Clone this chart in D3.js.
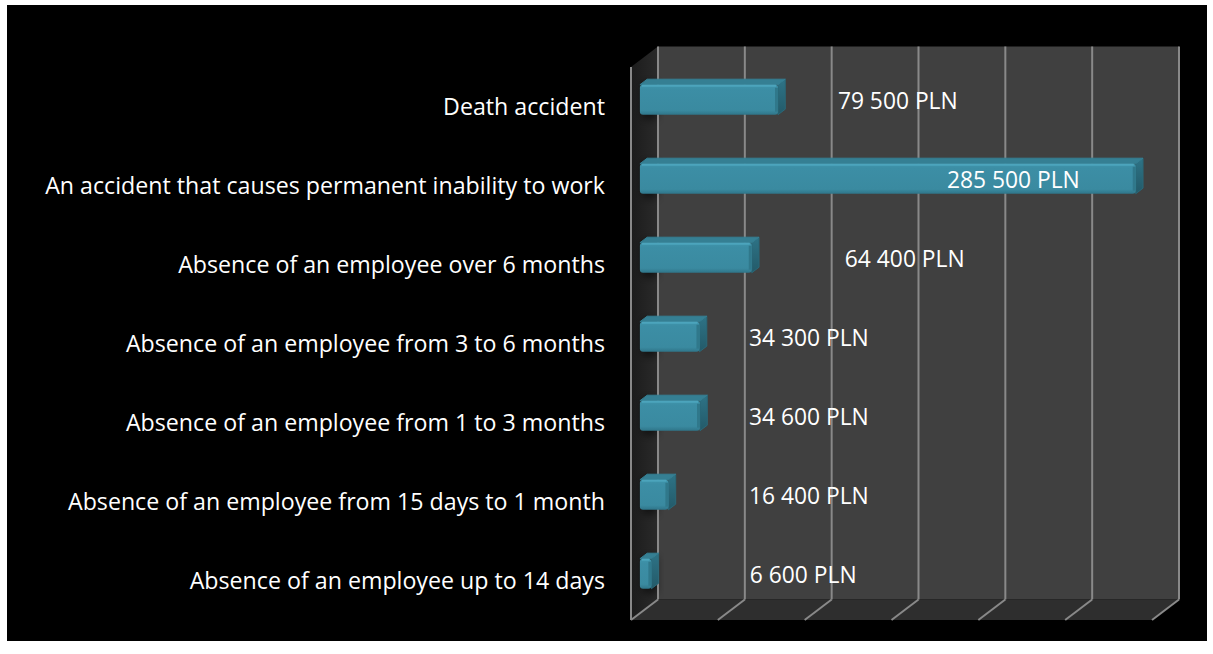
<!DOCTYPE html>
<html><head><meta charset="utf-8">
<script src="https://cdn.jsdelivr.net/npm/d3@7/dist/d3.min.js"></script>
<style>html,body{margin:0;padding:0;background:#fff;}svg{display:block;}</style>
</head><body>
<script>
const categories = [
  "Death accident",
  "An accident that causes permanent inability to work",
  "Absence of an employee over 6 months",
  "Absence of an employee from 3 to 6 months",
  "Absence of an employee from 1 to 3 months",
  "Absence of an employee from 15 days to 1 month",
  "Absence of an employee up to 14 days"
];
const values = [79500, 285500, 64400, 34300, 34600, 16400, 6600];
const valueLabels = ["79 500 PLN","285 500 PLN","64 400 PLN","34 300 PLN","34 600 PLN","16 400 PLN","6 600 PLN"];
// where each value label starts, in axis units (labels were moved by hand in the original)
const labelAt = [114000, 176800, 118000, 62800, 62800, 62800, 63300];
const ticks = [0, 50000, 100000, 150000, 200000, 250000, 300000];

const W = 1213, H = 654;
const svg = d3.select("body").append("svg").attr("width", W).attr("height", H);
svg.append("rect").attr("x",7).attr("y",5).attr("width",1200).attr("height",636).attr("fill","#000");

const DX = 27, DY = 20.5;          // full depth offset (oblique projection)
const D1 = 0.33, D2 = 0.6;         // bar depth range
const x = d3.scaleLinear().domain([0, 300000]).range([631, 1152]);
const y = d3.scaleBand().domain(categories).range([67, 620]).paddingInner(0.62).paddingOuter(0.31);
const P = (px, py, d) => [px + d*DX, py - d*DY];
const poly = pts => "M" + pts.map(p => p.join(",")).join("L") + "Z";

const defs = svg.append("defs");
const lw = defs.append("linearGradient").attr("id","lwall").attr("x1",0).attr("x2",1).attr("y1",0).attr("y2",0);
lw.append("stop").attr("offset",0).attr("stop-color","#1c1c1c");
lw.append("stop").attr("offset",1).attr("stop-color","#2a2a2a");
const fg = defs.append("linearGradient").attr("id","front").attr("x1",0).attr("x2",0).attr("y1",0).attr("y2",1);
fg.append("stop").attr("offset",0).attr("stop-color","#4096ad");
fg.append("stop").attr("offset",0.15).attr("stop-color","#3c8ea5");
fg.append("stop").attr("offset",0.85).attr("stop-color","#3a8aa0");
fg.append("stop").attr("offset",1).attr("stop-color","#2f7589");
const sg = defs.append("linearGradient").attr("id","side").attr("x1",0).attr("x2",0).attr("y1",0).attr("y2",1);
sg.append("stop").attr("offset",0).attr("stop-color","#2e7386");
sg.append("stop").attr("offset",1).attr("stop-color","#235a69");
defs.append("filter").attr("id","blur").attr("x","-50%").attr("y","-50%").attr("width","200%").attr("height","200%")
  .append("feGaussianBlur").attr("stdDeviation",4);

const y0 = 67, y1 = 620;
// back wall
svg.append("path").attr("d", poly([P(x(0),y0,1), P(x(300000),y0,1), P(x(300000),y1,1), P(x(0),y1,1)])).attr("fill","#404040");
// left wall
svg.append("path").attr("d", poly([P(x(0),y0,0), P(x(0),y0,1), P(x(0),y1,1), P(x(0),y1,0)])).attr("fill","url(#lwall)");
// floor
svg.append("path").attr("d", poly([P(x(0),y1,0), P(x(0),y1,1), P(x(300000),y1,1), P(x(300000),y1,0)])).attr("fill","#2e2e2e");

// shadows on left wall
svg.append("g").attr("filter","url(#blur)").selectAll("rect").data(categories).join("rect")
  .attr("x", x(0)+DX*0.45).attr("width", DX*0.5)
  .attr("y", d => y(d) - D1*DY - 2).attr("height", y.bandwidth()+6)
  .attr("fill","#000").attr("opacity",0.6);

const gridC = "#898989";
// back gridlines
svg.append("g").selectAll("line").data(ticks).join("line")
  .attr("x1", d => P(x(d),y0,1)[0]).attr("x2", d => P(x(d),y1,1)[0])
  .attr("y1", P(0,y0,1)[1]).attr("y2", P(0,y1,1)[1])
  .attr("stroke", gridC).attr("stroke-width", 2);
// floor diagonals
svg.append("g").selectAll("line").data(ticks).join("line")
  .attr("x1", d => P(x(d),y1,0)[0]).attr("y1", y1)
  .attr("x2", d => P(x(d),y1,1)[0]).attr("y2", P(0,y1,1)[1])
  .attr("stroke", gridC).attr("stroke-width", 2);
// front axis line
svg.append("line").attr("x1", x(0)).attr("x2", x(0)).attr("y1", y0).attr("y2", y1)
  .attr("stroke", gridC).attr("stroke-width", 2);

// bars
const bars = svg.append("g").selectAll("g").data(categories).join("g");
bars.each(function(c, i) {
  const g = d3.select(this);
  const v = values[i];
  const top = y(c), bot = y(c) + y.bandwidth();
  const xl = x(0), xr = x(v);
  // right side face
  g.append("path").attr("d", poly([P(xr,top,D1), P(xr,top,D2), P(xr,bot,D2), P(xr,bot,D1)]))
    .attr("fill","url(#side)").attr("stroke","#2a6878").attr("stroke-width",1).attr("stroke-linejoin","round");
  // top face
  g.append("path").attr("d", poly([P(xl,top,D1), P(xl,top,D2), P(xr,top,D2), P(xr,top,D1)]))
    .attr("fill","#357f93").attr("stroke","#357f93").attr("stroke-width",1).attr("stroke-linejoin","round");
  // front face
  const f0 = P(xl, top, D1), f1 = P(xr, bot, D1);
  g.append("rect").attr("x", f0[0]).attr("y", f0[1]).attr("width", Math.max(1, f1[0]-f0[0])).attr("height", f1[1]-f0[1])
    .attr("rx", 3).attr("fill","url(#front)");
  // highlight rim at top front edge
  g.append("line").attr("x1", f0[0]+2).attr("x2", f1[0]-2).attr("y1", f0[1]+1).attr("y2", f0[1]+1)
    .attr("stroke","#4ca4bc").attr("stroke-width",2);
  // darker right edge of front face
  g.append("line").attr("x1", f1[0]-1.5).attr("x2", f1[0]-1.5).attr("y1", f0[1]+3).attr("y2", f1[1]-3)
    .attr("stroke","#30788b").attr("stroke-width",3);
});

// category labels
svg.append("g").selectAll("text").data(categories).join("text")
  .attr("x", 605).attr("y", d => y(d) + y.bandwidth()/2 + 2.5)
  .attr("text-anchor","end").attr("dominant-baseline","middle")
  .attr("fill","#fff").attr("font-family","'Open Sans', sans-serif").attr("font-size", 23.2)
  .text(d => d);

// value labels
svg.append("g").selectAll("text").data(categories).join("text")
  .attr("x", (d,i) => P(x(labelAt[i]),0,D1)[0])
  .attr("y", d => y(d) + y.bandwidth()/2 - D1*DY + 3)
  .attr("dominant-baseline","middle")
  .attr("fill","#fff").attr("font-family","'Open Sans', sans-serif").attr("font-size", 22.8)
  .text((d,i) => valueLabels[i]);
</script>
</body></html>
